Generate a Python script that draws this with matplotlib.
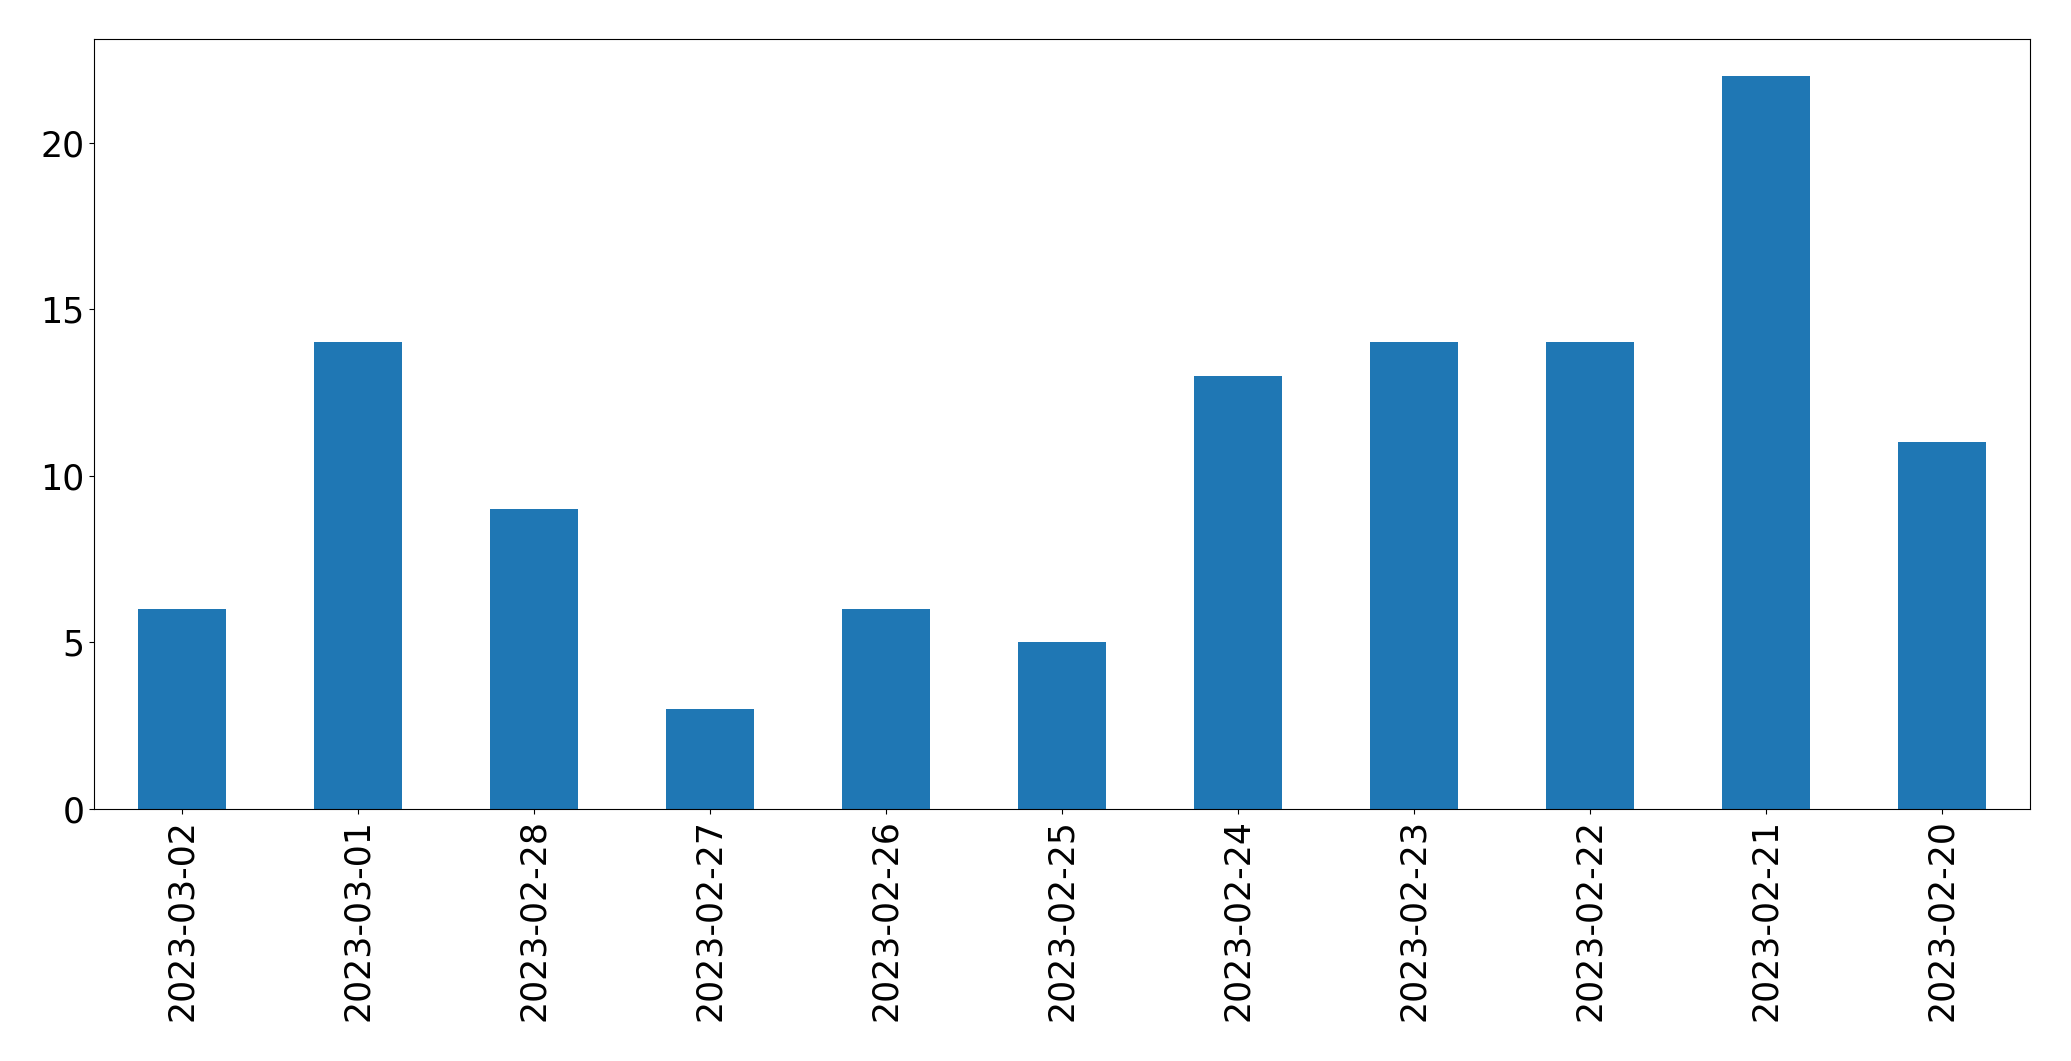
import matplotlib
matplotlib.use("Agg")
from matplotlib import pyplot as plt
import pandas as pd

# ================================================================
# DATA
# ================================================================
DATES = ["2023-03-02", "2023-03-01", "2023-02-28", "2023-02-27", "2023-02-26",
         "2023-02-25", "2023-02-24", "2023-02-23", "2023-02-22", "2023-02-21",
         "2023-02-20"]
COUNTS = [6, 14, 9, 3, 6, 5, 13, 14, 14, 22, 11]

# ================================================================
# PLOT
# ================================================================
plt.rcParams["font.size"] = 25

series = pd.Series(COUNTS, index=DATES)

fig, ax = plt.subplots(figsize=(20.71, 10.61), dpi=100)
series.plot(kind="bar", ax=ax, color="#1f77b4")
ax.tick_params(axis="both", labelsize=25)

fig.subplots_adjust(left=0.0454, right=0.980, top=0.963, bottom=0.2375)
fig.savefig("out.png", dpi=100)
